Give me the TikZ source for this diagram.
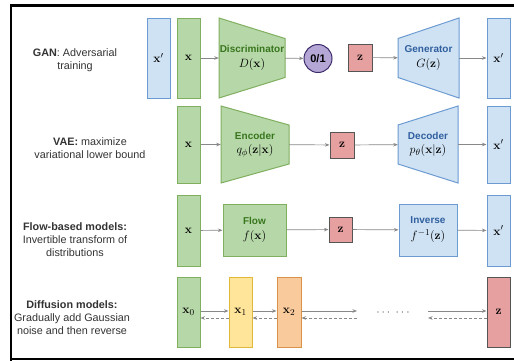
\documentclass[tikz,border=0pt]{standalone}
\usepackage[no-math]{fontspec}
\setmainfont{Liberation Sans}
\usetikzlibrary{arrows.meta,calc}
\definecolor{gfill}{HTML}{B6D7A8}
\definecolor{gline}{HTML}{7FAF5F}
\definecolor{gtext}{HTML}{38761D}
\definecolor{bfill}{HTML}{CFE2F3}
\definecolor{bline}{HTML}{6C9BD2}
\definecolor{btext}{HTML}{2F5F9E}
\definecolor{rfill}{HTML}{E6A0A0}
\definecolor{rline}{HTML}{555555}
\definecolor{yfill}{HTML}{FFE599}
\definecolor{yline}{HTML}{E0B83A}
\definecolor{ofill}{HTML}{F9CB9C}
\definecolor{oline}{HTML}{D9924A}
\definecolor{pfill}{HTML}{B4A7D6}
\definecolor{pline}{HTML}{3D2B6B}
\definecolor{arr}{HTML}{888888}
\definecolor{lbl}{HTML}{333333}
\begin{document}
\begin{tikzpicture}[x=1pt,y=-1pt,
  every node/.style={inner sep=0pt},
  colbox/.style={minimum width=23pt, line width=1pt, font=\fontsize{13}{15}\selectfont},
  gbox/.style={colbox, fill=gfill, draw=gline},
  bbox/.style={colbox, fill=bfill, draw=bline},
  rbox/.style={colbox, fill=rfill, draw=rline},
  ybox/.style={colbox, fill=yfill, draw=yline},
  obox/.style={colbox, fill=ofill, draw=oline},
  gshape/.style={fill=gfill, draw=gline, line width=1pt},
  bshape/.style={fill=bfill, draw=bline, line width=1pt},
  inlbl/.style={align=center, font=\fontsize{10}{12}\selectfont},
  sidelbl/.style={align=center, text=lbl, font=\fontsize{10.8}{13}\selectfont},
  conn/.style={draw=arr, line width=0.7pt, -{Stealth[length=4.5pt,width=3.5pt]}},
  back/.style={conn, dashed, dash pattern=on 3pt off 2pt},
]
\useasboundingbox (0,0) rectangle (514,360);
\clip (0,0) rectangle (514,360);
\fill[white] (0,0) rectangle (514,360);

% frame
\draw[line width=2.2pt, line cap=rect] (11,400) -- (11,5.5) -- (600,5.5);
\draw[line width=2.2pt] (11,358.8) -- (600,358.8);

% ---------- GAN ----------
\node[sidelbl] (lgan) at (75,60) {\textbf{GAN}: Adversarial\\training};
\node[bbox, minimum height=80pt] (gxp) at (158.5,58) {$\mathbf{x}'$};
\node[gbox, minimum height=80pt] (gx) at (188.5,58) {$\mathbf{x}$};
\filldraw[gshape] (219,18) -- (285,38.5) -- (285,77.5) -- (219,98) -- cycle;
\node[inlbl, minimum width=66pt, minimum height=80pt] (disc) at (252,58)
  {\textcolor{gtext}{\textbf{Discriminator}}\\[3pt]{\fontsize{12.5}{14}\selectfont $D(\mathbf{x})$}};
\node[circle, fill=pfill, draw=pline, line width=1pt, minimum size=28pt,
  font=\fontsize{11}{12}\selectfont\bfseries] (cls) at (318,58.5) {0/1};
\node[rbox, minimum width=24pt, minimum height=27pt] (gz) at (360,57.5) {$\mathbf{z}$};
\filldraw[bshape] (398,38.5) -- (459,18) -- (459,98) -- (398,77.5) -- cycle;
\node[inlbl, minimum width=61pt, minimum height=80pt] (gen) at (428.5,58)
  {\textcolor{btext}{\textbf{Generator}}\\[3pt]{\fontsize{12.5}{14}\selectfont $G(\mathbf{z})$}};
\node[bbox, minimum height=80pt] (gxo) at (498.5,58) {$\mathbf{x}'$};
\draw[conn] (gx) -- (disc);
\draw[conn] (disc) -- (cls);
\draw[conn] (gz) -- (gen);
\draw[conn] (gen) -- (gxo);

% ---------- VAE ----------
\node[sidelbl] (lvae) at (90,148.5) {\textbf{VAE:} maximize\\variational lower bound};
\node[gbox, minimum height=77pt] (vx) at (188.5,144.5) {$\mathbf{x}$};
\filldraw[gshape] (221,106) -- (289,125) -- (289,164) -- (221,183) -- cycle;
\node[inlbl, minimum width=68pt, minimum height=77pt] (enc) at (255,144.5)
  {\textcolor{gtext}{\textbf{Encoder}}\\[2pt]{\fontsize{12.5}{14}\selectfont $q_\phi(\mathbf{z}|\mathbf{x})$}};
\node[rbox, minimum width=24pt, minimum height=26pt] (vz) at (342,145) {$\mathbf{z}$};
\filldraw[bshape] (398,125) -- (458,106) -- (458,183) -- (398,164) -- cycle;
\node[inlbl, minimum width=60pt, minimum height=77pt] (dec) at (428,144.5)
  {\textcolor{btext}{\textbf{Decoder}}\\[2pt]{\fontsize{12.5}{14}\selectfont $p_\theta(\mathbf{x}|\mathbf{z})$}};
\node[bbox, minimum height=77pt] (vxo) at (498.5,144.5) {$\mathbf{x}'$};
\draw[conn] (vx) -- (enc);
\draw[conn] (enc) -- (vz);
\draw[conn] (vz) -- (dec);
\draw[conn] (dec) -- (vxo);

% ---------- Flow ----------
\node[sidelbl] (lflow) at (75,240) {\textbf{Flow-based models:}\\Invertible transform of\\distributions};
\node[gbox, minimum height=71pt] (fx) at (188.5,230.5) {$\mathbf{x}$};
\node[inlbl, fill=gfill, draw=gline, line width=1pt, minimum width=63pt, minimum height=52pt] (flow) at (254.5,230)
  {\textcolor{gtext}{\textbf{Flow}}\\[3pt]{\fontsize{12.5}{14}\selectfont $f(\mathbf{x})$}};
\node[rbox, minimum width=23pt, minimum height=25pt] (fz) at (340.5,229.5) {$\mathbf{z}$};
\node[inlbl, fill=bfill, draw=bline, line width=1pt, minimum width=58pt, minimum height=52pt] (inv) at (428,230)
  {\textcolor{btext}{\textbf{Inverse}}\\[4pt]{\fontsize{12.5}{14}\selectfont $f^{-1}(\mathbf{z})$}};
\node[bbox, minimum height=71pt] (fxo) at (498.5,230.5) {$\mathbf{x}'$};
\draw[conn] (fx) -- (flow);
\draw[conn] (flow) -- (fz);
\draw[conn] (fz) -- (inv);
\draw[conn] (inv) -- (fxo);

% ---------- Diffusion ----------
\node[sidelbl] (ldiff) at (72,318) {\textbf{Diffusion models:}\\Gradually add Gaussian\\noise and then reverse};
\node[gbox, minimum height=70pt] (d0) at (188.5,312) {$\mathbf{x}_0$};
\node[ybox, minimum height=70pt] (d1) at (240.5,312) {$\mathbf{x}_1$};
\node[obox, minimum height=70pt, minimum width=24pt] (d2) at (289,312) {$\mathbf{x}_2$};
\node[rbox, minimum height=70pt] (dz) at (498.5,312) {$\mathbf{z}$};
\node[text=black!65, font=\large] (dots) at (393,313) {$\cdots\;\cdots$};
\coordinate (ma) at (357,311);
\coordinate (mb) at (428,311);
\coordinate (mc) at (357,318);
\coordinate (md) at (428,318);
\draw[conn] ([yshift=1pt]d0.east) -- ([yshift=1pt]d1.west);
\draw[back] ([yshift=-6pt]d1.west) -- ([yshift=-6pt]d0.east);
\draw[conn] ([yshift=1pt]d1.east) -- ([yshift=1pt]d2.west);
\draw[back] ([yshift=-6pt]d2.west) -- ([yshift=-6pt]d1.east);
\draw[conn] ([yshift=1pt]d2.east) -- (ma);
\draw[back] (mc) -- ([yshift=-6pt]d2.east);
\draw[conn] (mb) -- ([yshift=1pt]dz.west);
\draw[back] ([yshift=-6pt]dz.west) -- (md);
\end{tikzpicture}
\end{document}
